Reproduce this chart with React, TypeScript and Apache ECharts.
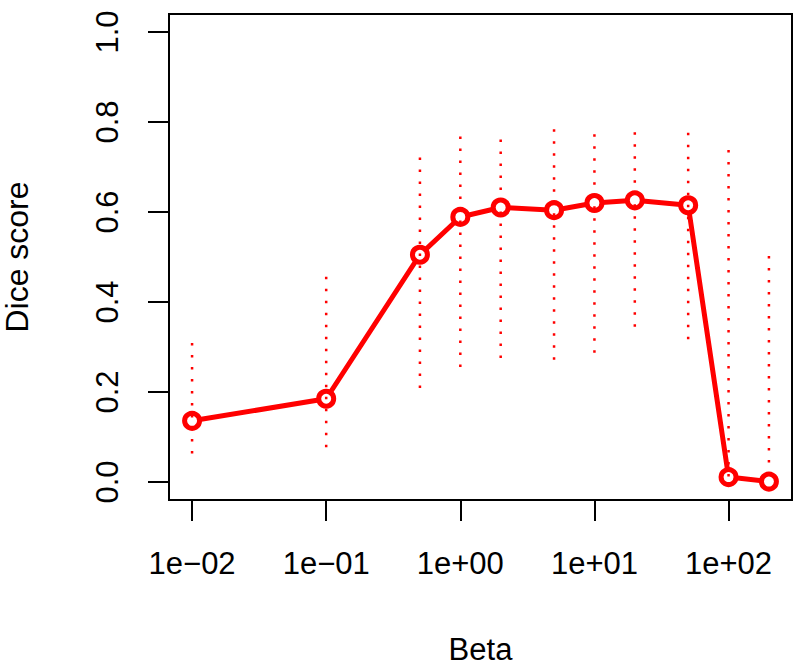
import React, { useEffect, useRef } from "react";
import * as echarts from "echarts";

const betas = [0.01, 0.1, 0.5, 1, 2, 5, 10, 20, 50, 100, 200];
const diceMean = [0.136, 0.185, 0.505, 0.589, 0.61, 0.604, 0.62, 0.626, 0.615, 0.011, 0.001];
const diceUpper = [0.309, 0.456, 0.721, 0.768, 0.761, 0.784, 0.773, 0.777, 0.776, 0.738, 0.502];
const diceLower = [0.042, 0.057, 0.19, 0.239, 0.259, 0.255, 0.27, 0.327, 0.3, 0.0, 0.0];
const xTickExps = [-2, -1, 0, 1, 2];
const xTickLabels = ["1e\u221202", "1e\u221201", "1e+00", "1e+01", "1e+02"];
const yTicks = [0, 0.2, 0.4, 0.6, 0.8, 1.0];

const FONT = "'Liberation Sans', Arial, Helvetica, sans-serif";

export default function App() {
  const ref = useRef<HTMLDivElement>(null);
  useEffect(() => {
    document.body.style.margin = "0";
    if (!ref.current) return;
    const chart = echarts.init(ref.current, undefined, { renderer: "svg" });
    const lx = betas.map((b) => Math.log10(b));
    const xr = lx[lx.length - 1] - lx[0];
    const xmin = lx[0] - 0.04 * xr;
    const xmax = lx[lx.length - 1] + 0.04 * xr;
    chart.setOption({
      animation: false,
      backgroundColor: "#fff",
      textStyle: { fontFamily: FONT, color: "#000" },
      grid: {
        left: 169,
        right: 8,
        top: 14,
        bottom: 172,
        containLabel: false,
        outerBoundsMode: "none",
        show: true,
        borderColor: "#000",
        borderWidth: 2,
        backgroundColor: "transparent",
      },
      xAxis: {
        type: "value",
        min: xmin,
        max: xmax,
        name: "Beta",
        nameLocation: "middle",
        nameGap: 134,
        nameTextStyle: { fontSize: 31, color: "#000", fontFamily: FONT },
        axisLine: { show: false, onZero: false },
        axisTick: {
          show: true,
          length: 21,
          customValues: xTickExps,
          lineStyle: { color: "#000", width: 2 },
        },
        axisLabel: {
          show: true,
          customValues: xTickExps,
          margin: 48,
          fontSize: 31,
          color: "#000",
          fontFamily: FONT,
          formatter: (v: number) => {
            const i = xTickExps.findIndex((e) => Math.abs(e - v) < 1e-6);
            return i >= 0 ? xTickLabels[i] : "";
          },
        },
        splitLine: { show: false },
      },
      yAxis: {
        type: "value",
        min: -0.04,
        max: 1.04,
        name: "Dice score",
        nameLocation: "middle",
        nameRotate: 90,
        nameGap: 136,
        nameTextStyle: { fontSize: 32, color: "#000", fontFamily: FONT },
        axisLine: { show: false, onZero: false },
        axisTick: {
          show: true,
          length: 21,
          customValues: yTicks,
          lineStyle: { color: "#000", width: 2 },
        },
        axisLabel: {
          show: true,
          customValues: yTicks,
          rotate: 90,
          margin: 46,
          fontSize: 31,
          color: "#000",
          fontFamily: FONT,
          formatter: (v: number) => v.toFixed(1),
        },
        splitLine: { show: false },
      },
      series: [
        {
          type: "line",
          data: lx.map((x, i) => [x, diceMean[i]]),
          lineStyle: { color: "#ff0000", width: 5 },
          symbol: "circle",
          symbolSize: 15,
          itemStyle: { color: "#ffffff", borderColor: "#ff0000", borderWidth: 5 },
          z: 2,
        },
        {
          type: "custom",
          z: 3,
          clip: false,
          data: lx.map((x, i) => [x, diceLower[i], diceUpper[i]]),
          renderItem: (params: any, api: any) => {
            const x = api.value(0);
            const lo = api.coord([x, api.value(1)]);
            const hi = api.coord([x, api.value(2)]);
            return {
              type: "line",
              shape: { x1: hi[0], y1: hi[1], x2: lo[0], y2: lo[1] },
              style: { stroke: "#ff0000", lineWidth: 2.5, lineDash: [2.5, 9.5] },
            };
          },
        },
      ],
    });
    return () => chart.dispose();
  }, []);
  return <div ref={ref} style={{ width: 800, height: 672 }} />;
}
